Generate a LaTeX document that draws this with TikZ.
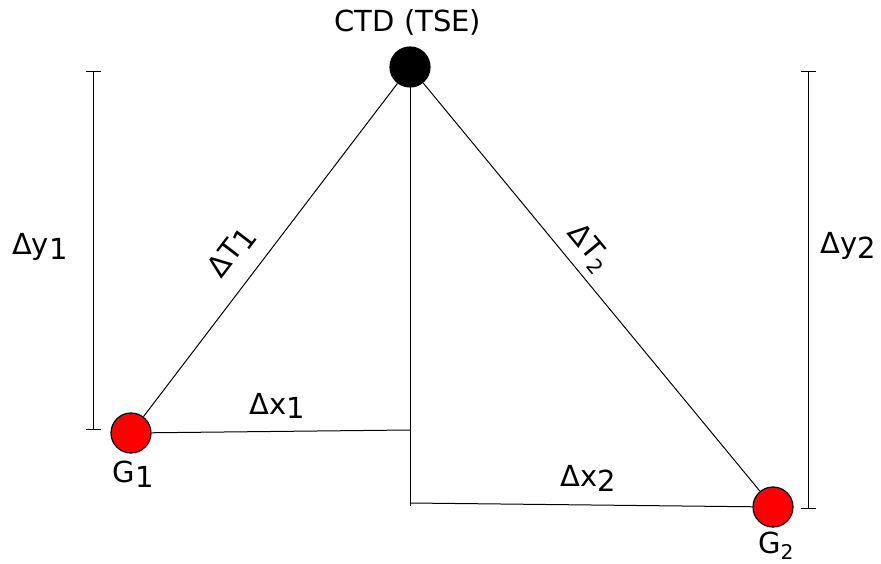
\documentclass[tikz,border=0pt]{standalone}
\usepackage{fontspec}
\setmainfont{DejaVu Sans}
\usetikzlibrary{arrows.meta, positioning}

% lowered digit as the picture sets it (full size, dropped a little)
\newcommand{\lowidx}[1]{\raisebox{-0.3ex}{#1}}

\begin{document}
\begin{tikzpicture}[
  x=1pt, y=-1pt,
  font=\fontsize{29}{34}\selectfont,
  station/.style={circle, draw=black, line width=1.2pt,
                  minimum size=40pt, inner sep=0pt},
  link/.style={line width=1pt},
  dimbar/.style={line width=1pt, {Bar[width=15pt]}-{Bar[width=15pt]}},
  lbl/.style={inner sep=2pt},
]
\useasboundingbox (0,0) rectangle (881,564);

% stations
\node[station, fill=black] (ctd) at (410,67)  {};
\node[station, fill=red]   (g1)  at (131,433) {};
\node[station, fill=red]   (g2)  at (773,507) {};

\node[lbl, above=9pt of ctd, xshift=-2pt] (ctdname) {CTD (TSE)};
\node[lbl, below=5pt of g1, xshift=2pt]   (g1name)  {G\lowidx{1}};
\node[lbl, below=2pt of g2, xshift=3pt]   (g2name)  {G\textsubscript{2}};

% foot points on the vertical
\coordinate (foot1) at (410,430);
\coordinate (foot2) at (410,503);
\coordinate (vend)  at (410,506);

% dimension bars
\coordinate (dy1top) at (93,71);
\coordinate (dy1bot) at (93,430);
\coordinate (dy2top) at (808,71);
\coordinate (dy2bot) at (808,509);

\draw[link] (ctd) -- node[lbl, sloped, above=14pt, pos=0.56] {ΔT\lowidx{1}} (g1);
\draw[link] (ctd) -- node[lbl, sloped, above=6pt, pos=0.44] {ΔT\textsubscript{2}} (g2);
\draw[link] (ctd.center) -- (vend);
\draw[link] (g1) -- node[lbl, above=10pt, pos=0.486] {Δx\lowidx{1}} (foot1);
\draw[link] (foot2) -- node[lbl, above=11pt, pos=0.52] {Δx\lowidx{2}} (g2);

\draw[dimbar] (dy1top) -- node[lbl, left=23pt, pos=0.49] {Δy\lowidx{1}} (dy1bot);
\draw[dimbar] (dy2top) -- node[lbl, right=10pt, pos=0.40] {Δy\lowidx{2}} (dy2bot);
\end{tikzpicture}
\end{document}
